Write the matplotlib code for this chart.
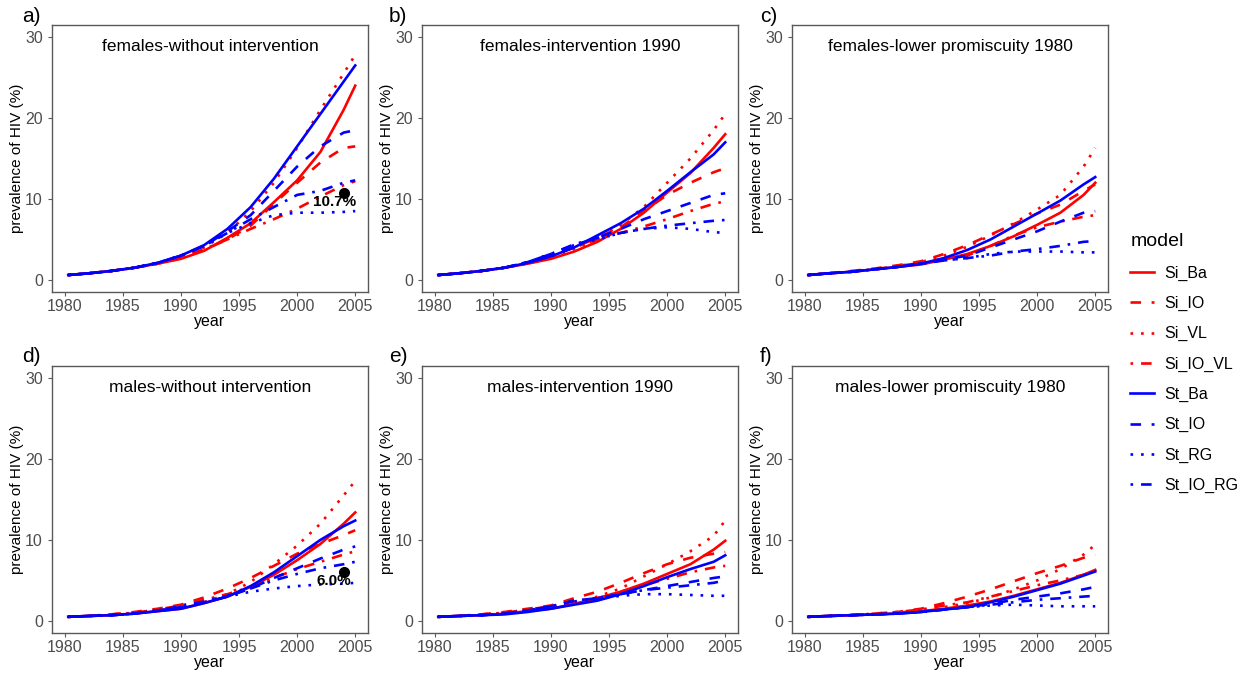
import matplotlib
matplotlib.use("Agg")
from matplotlib import pyplot as plt

plt.rcParams['font.family'] = ['Liberation Sans', 'DejaVu Sans']

# time grid shared by every series
years = [1980.3, 1982, 1984, 1986, 1988, 1990, 1992, 1994, 1996, 1998, 2000, 2002, 2004, 2005]

models = ['Si_Ba', 'Si_IO', 'Si_VL', 'Si_IO_VL', 'St_Ba', 'St_IO', 'St_RG', 'St_IO_RG']

# a) females - without intervention
females_none = {
    'Si_Ba':    [0.6, 0.8, 1.1, 1.5, 2.0, 2.6, 3.6, 5.2, 7.0, 9.6, 12.3, 15.8, 21.0, 24.0],
    'Si_IO':    [0.6, 0.8, 1.1, 1.5, 2.0, 2.7, 3.7, 5.0, 6.7, 9.4, 12.0, 14.5, 16.3, 16.5],
    'Si_VL':    [0.6, 0.8, 1.1, 1.5, 2.1, 2.9, 4.0, 5.8, 8.5, 12.0, 16.3, 21.0, 25.5, 27.8],
    'Si_IO_VL': [0.6, 0.8, 1.1, 1.5, 2.0, 2.8, 3.8, 5.0, 6.3, 7.5, 8.8, 10.3, 11.7, 12.2],
    'St_Ba':    [0.6, 0.8, 1.1, 1.5, 2.1, 3.0, 4.3, 6.3, 9.0, 12.5, 16.5, 20.5, 24.5, 26.5],
    'St_IO':    [0.6, 0.8, 1.1, 1.5, 2.1, 3.0, 4.2, 6.0, 8.0, 11.0, 14.0, 16.5, 18.2, 18.5],
    'St_RG':    [0.6, 0.8, 1.1, 1.5, 2.1, 3.0, 4.2, 5.8, 7.0, 8.0, 8.3, 8.3, 8.4, 8.5],
    'St_IO_RG': [0.6, 0.8, 1.1, 1.5, 2.1, 3.0, 4.2, 5.8, 7.5, 9.0, 10.5, 11.0, 12.0, 12.3],
}

# b) females - intervention 1990
females_1990 = {
    'Si_Ba':    [0.6, 0.8, 1.1, 1.5, 2.0, 2.6, 3.5, 4.7, 6.3, 8.3, 10.8, 13.2, 16.3, 18.0],
    'Si_IO':    [0.6, 0.8, 1.1, 1.5, 2.1, 3.0, 4.0, 5.2, 6.5, 8.5, 10.5, 12.0, 13.3, 13.8],
    'Si_VL':    [0.6, 0.8, 1.1, 1.5, 2.0, 2.8, 3.8, 5.0, 6.8, 9.0, 12.0, 15.0, 18.5, 20.5],
    'Si_IO_VL': [0.6, 0.8, 1.1, 1.5, 2.1, 3.0, 4.0, 5.0, 5.8, 6.6, 7.5, 8.5, 9.4, 9.7],
    'St_Ba':    [0.6, 0.8, 1.1, 1.5, 2.1, 2.9, 4.0, 5.5, 7.0, 8.8, 11.0, 13.3, 15.5, 17.0],
    'St_IO':    [0.6, 0.8, 1.1, 1.5, 2.2, 3.2, 4.3, 5.2, 6.3, 7.5, 8.5, 9.5, 10.5, 10.7],
    'St_RG':    [0.6, 0.8, 1.1, 1.5, 2.2, 3.2, 4.3, 5.0, 5.8, 6.3, 6.5, 6.3, 5.9, 5.8],
    'St_IO_RG': [0.6, 0.8, 1.1, 1.5, 2.2, 3.2, 4.4, 5.2, 5.8, 6.3, 6.7, 7.0, 7.3, 7.4],
}

# c) females - lower promiscuity 1980
females_lower = {
    'Si_Ba':    [0.6, 0.8, 1.0, 1.3, 1.6, 1.9, 2.5, 3.2, 4.2, 5.4, 6.8, 8.3, 10.5, 12.0],
    'Si_IO':    [0.6, 0.8, 1.1, 1.4, 1.8, 2.3, 3.2, 4.3, 5.6, 6.9, 8.2, 9.3, 11.0, 11.8],
    'Si_VL':    [0.6, 0.8, 1.0, 1.3, 1.7, 2.2, 3.0, 4.1, 5.5, 7.0, 8.7, 10.5, 14.0, 16.3],
    'Si_IO_VL': [0.6, 0.8, 1.0, 1.3, 1.7, 2.1, 2.6, 3.0, 4.2, 5.5, 6.5, 7.2, 7.8, 8.0],
    'St_Ba':    [0.6, 0.8, 1.0, 1.3, 1.6, 2.0, 2.7, 3.7, 5.0, 6.6, 8.2, 9.8, 11.8, 12.7],
    'St_IO':    [0.6, 0.8, 1.0, 1.3, 1.6, 2.0, 2.5, 3.0, 4.0, 5.0, 6.0, 7.2, 8.3, 8.5],
    'St_RG':    [0.6, 0.8, 1.0, 1.3, 1.6, 2.0, 2.4, 2.7, 3.2, 3.5, 3.5, 3.5, 3.4, 3.4],
    'St_IO_RG': [0.6, 0.8, 1.0, 1.3, 1.6, 2.0, 2.4, 2.7, 3.0, 3.5, 3.8, 4.2, 4.7, 4.8],
}

# d) males - without intervention
males_none = {
    'Si_Ba':    [0.5, 0.6, 0.7, 0.9, 1.2, 1.5, 2.2, 3.0, 4.2, 5.7, 7.5, 9.5, 12.0, 13.4],
    'Si_IO':    [0.5, 0.6, 0.8, 1.1, 1.5, 2.0, 2.9, 4.0, 5.3, 6.8, 8.3, 9.5, 10.6, 11.2],
    'Si_VL':    [0.5, 0.6, 0.7, 0.9, 1.2, 1.6, 2.3, 3.3, 4.8, 7.0, 9.3, 12.0, 15.5, 17.3],
    'Si_IO_VL': [0.5, 0.6, 0.8, 1.0, 1.4, 1.9, 2.6, 3.3, 4.2, 5.3, 6.4, 7.3, 8.2, 8.6],
    'St_Ba':    [0.5, 0.6, 0.7, 0.9, 1.2, 1.5, 2.2, 3.0, 4.3, 6.0, 8.0, 10.0, 11.7, 12.4],
    'St_IO':    [0.5, 0.6, 0.7, 0.9, 1.3, 1.7, 2.3, 3.0, 4.0, 5.3, 6.5, 7.7, 8.8, 9.2],
    'St_RG':    [0.5, 0.6, 0.7, 0.9, 1.3, 1.7, 2.3, 3.0, 3.6, 4.0, 4.3, 4.5, 4.6, 4.7],
    'St_IO_RG': [0.5, 0.6, 0.7, 0.9, 1.3, 1.8, 2.4, 3.1, 4.0, 5.0, 5.8, 6.5, 7.0, 7.3],
}

# e) males - intervention 1990
males_1990 = {
    'Si_Ba':    [0.5, 0.6, 0.7, 0.9, 1.2, 1.5, 2.1, 2.8, 3.6, 4.6, 5.8, 7.0, 8.8, 9.9],
    'Si_IO':    [0.5, 0.6, 0.8, 1.1, 1.5, 1.9, 2.8, 3.6, 4.7, 5.9, 7.0, 7.8, 8.3, 8.5],
    'Si_VL':    [0.5, 0.6, 0.7, 0.9, 1.2, 1.6, 2.2, 3.0, 4.0, 5.5, 7.0, 8.6, 10.5, 12.4],
    'Si_IO_VL': [0.5, 0.6, 0.8, 1.0, 1.4, 1.8, 2.4, 2.8, 3.6, 4.4, 5.2, 6.0, 6.6, 6.8],
    'St_Ba':    [0.5, 0.6, 0.7, 0.8, 1.1, 1.5, 2.0, 2.5, 3.3, 4.3, 5.4, 6.4, 7.3, 8.1],
    'St_IO':    [0.5, 0.6, 0.7, 0.9, 1.3, 1.8, 2.5, 2.8, 3.3, 3.8, 4.3, 4.8, 5.3, 5.5],
    'St_RG':    [0.5, 0.6, 0.7, 0.9, 1.3, 1.8, 2.4, 2.7, 3.1, 3.3, 3.3, 3.2, 3.1, 3.1],
    'St_IO_RG': [0.5, 0.6, 0.7, 0.9, 1.3, 1.8, 2.5, 2.8, 3.3, 3.8, 4.1, 4.4, 4.7, 5.0],
}

# f) males - lower promiscuity 1980
males_lower = {
    'Si_Ba':    [0.5, 0.6, 0.7, 0.8, 0.9, 1.2, 1.5, 1.9, 2.4, 3.1, 3.9, 4.7, 5.7, 6.3],
    'Si_IO':    [0.5, 0.6, 0.7, 0.9, 1.1, 1.5, 2.2, 3.0, 3.9, 4.9, 5.9, 6.8, 7.8, 8.2],
    'Si_VL':    [0.5, 0.6, 0.7, 0.8, 1.0, 1.3, 1.7, 2.2, 2.9, 3.9, 5.0, 6.4, 8.2, 9.4],
    'Si_IO_VL': [0.5, 0.6, 0.7, 0.9, 1.1, 1.4, 1.9, 2.3, 3.0, 3.7, 4.4, 5.0, 5.7, 6.2],
    'St_Ba':    [0.5, 0.6, 0.7, 0.8, 0.9, 1.1, 1.4, 1.7, 2.3, 3.0, 3.8, 4.6, 5.6, 6.1],
    'St_IO':    [0.5, 0.6, 0.7, 0.8, 0.9, 1.1, 1.4, 1.7, 2.1, 2.6, 3.0, 3.4, 3.9, 4.2],
    'St_RG':    [0.5, 0.6, 0.7, 0.8, 0.9, 1.1, 1.4, 1.7, 1.9, 2.0, 1.9, 1.8, 1.8, 1.8],
    'St_IO_RG': [0.5, 0.6, 0.7, 0.8, 0.9, 1.1, 1.4, 1.7, 2.0, 2.3, 2.6, 2.8, 3.0, 3.1],
}

panels = [females_none, females_1990, females_lower, males_none, males_1990, males_lower]
titles = ['females-without intervention', 'females-intervention 1990',
          'females-lower promiscuity 1980', 'males-without intervention',
          'males-intervention 1990', 'males-lower promiscuity 1980']
letters = ['a)', 'b)', 'c)', 'd)', 'e)', 'f)']

# observed prevalence markers (panel index, year, value, label)
observed = [(0, 2004, 10.7, '10.7%'), (3, 2004, 6.0, '6.0%')]

# ggplot-like colours / linetypes
colors = {'Si': '#FF0000', 'St': '#0000FF'}
dash_styles = {'Ba': 'solid', 'IO': (0, (4, 4)), 'VL': (0, (1, 3)),
               'RG': (0, (1, 3)), 'IO_VL': (0, (1, 3, 4, 3)), 'IO_RG': (0, (1, 3, 4, 3))}

W, H = 1248, 674
fig = plt.figure(figsize=(W / 100, H / 100), dpi=100)

col_left = [52, 422, 792]
row_top = [25, 366]
letter_x = [22, 389, 760]
ax_w, ax_h = 316, 267
frame_col = '#595959'
tick_col = '#4D4D4D'

for i, data in enumerate(panels):
    r, c = divmod(i, 3)
    ax = fig.add_axes([col_left[c] / W, 1 - (row_top[r] + ax_h) / H, ax_w / W, ax_h / H])
    for m in models:
        grp, kind = m.split('_', 1)
        ax.plot(years, data[m], color=colors[grp], linestyle=dash_styles[kind],
                linewidth=1.9, label=m)

    ax.set_xlim(1978.9, 2006.1)
    ax.set_ylim(-1.5, 31.5)
    ax.set_xticks([1980, 1985, 1990, 1995, 2000, 2005])
    ax.set_yticks([0, 10, 20, 30])
    ax.tick_params(labelsize=11.5, labelcolor=tick_col, color=frame_col,
                   length=3, width=0.8)
    ax.tick_params(axis='x', pad=2.2)
    ax.tick_params(axis='y', pad=3.5)
    for s in ax.spines.values():
        s.set_color(frame_col)
        s.set_linewidth(1.0)
    ax.set_xlabel('year', fontsize=11.5, va='top')
    ax.set_ylabel('prevalence of HIV (%)', fontsize=11)
    ax.xaxis.set_label_coords(0.5, -0.082)
    ax.yaxis.set_label_coords(-0.088, 0.5)
    ax.text(1992.5, 28.8, titles[i], ha='center', va='center', fontsize=12.5)
    fig.text(letter_x[c] / W, 1 - (row_top[r] - 9) / H, letters[i],
             ha='left', va='center', fontsize=15)

    for idx, yr, val, lab in observed:
        if idx == i:
            ax.plot([yr], [val], 'o', color='black', markersize=7, zorder=5)
            ax.text(yr - 0.8, val - 1.1, lab, ha='center', va='center',
                    fontsize=11, fontweight='bold', zorder=6)

handles, labels = ax.get_legend_handles_labels()
leg = fig.legend(handles, labels, title='model', loc='upper left',
                 bbox_to_anchor=(1116 / W, 1 - 219 / H), frameon=False,
                 fontsize=11.5, title_fontsize=14, handlelength=1.5,
                 handletextpad=0.6, labelspacing=0.95)
leg._legend_box.align = 'left'

fig.savefig('out.png', dpi=100)
